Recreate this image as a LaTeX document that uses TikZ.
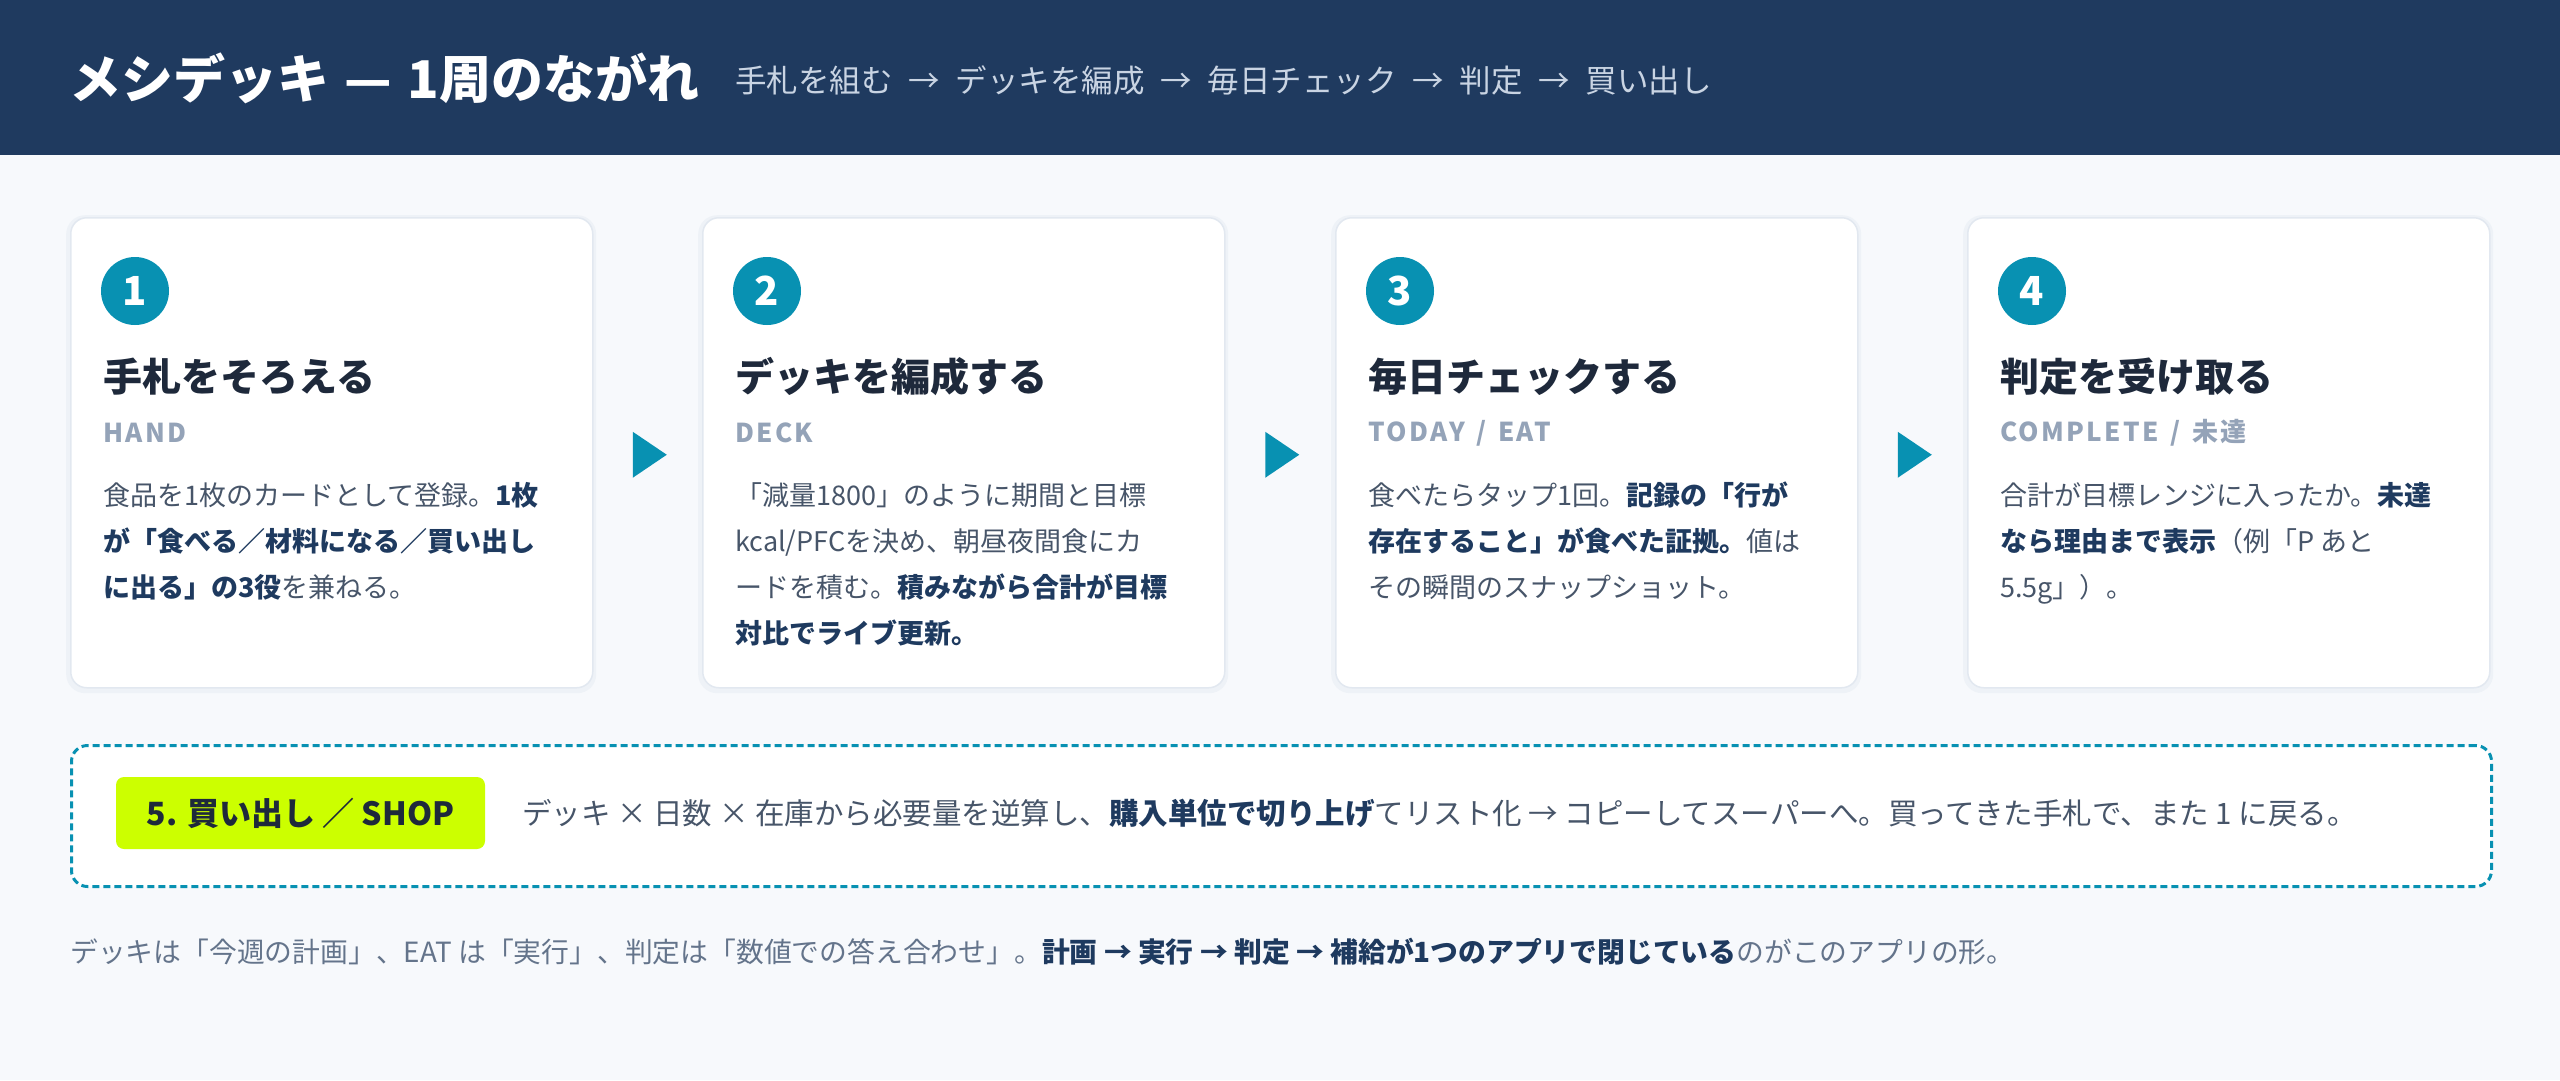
\documentclass[tikz,border=0pt]{standalone}
\usepackage{fontspec}
\setmainfont{Noto Sans CJK JP}
\usetikzlibrary{calc}
\definecolor{hdr}{HTML}{1F3A5F}
\definecolor{pagebg}{HTML}{F7F9FC}
\definecolor{teal}{HTML}{0891B2}
\definecolor{lime}{HTML}{CCFF00}
\definecolor{ttl}{HTML}{1E293B}
\definecolor{sub}{HTML}{94A3B8}
\definecolor{body}{HTML}{475569}
\definecolor{bb}{HTML}{1E3A5F}
\definecolor{foot}{HTML}{64748B}
\definecolor{hsub}{HTML}{C9D4E3}
\definecolor{cardline}{HTML}{E2E8F0}
\definecolor{shadow}{HTML}{EEF2F7}
\newcommand\myfs[2]{\fontsize{#1}{#2}\selectfont}
\newcommand\hlb[1]{{\bfseries\color{bb}#1}}
\newcommand\arr{\hspace{0.5em}→\hspace{0.5em}}
\newcommand\sla{\hspace{0.45em}/\hspace{0.45em}}
\tikzset{
  card/.style={draw=cardline, line width=1.5pt, fill=white, rounded corners=16pt,
    minimum width=522pt, minimum height=470pt, anchor=north west, inner sep=0pt},
  cardshadow/.style={fill=shadow, rounded corners=19pt, minimum width=530pt,
    minimum height=478pt, anchor=north west, inner sep=0pt},
  numcirc/.style={circle, fill=teal, minimum size=68pt, inner sep=0pt,
    text=white, font=\bfseries\myfs{40}{46}},
  ctitle/.style={anchor=west, inner sep=0pt, text=ttl, font=\bfseries\myfs{39}{46}},
  clabel/.style={anchor=west, inner sep=0pt, text=sub, font=\bfseries\myfs{26}{30}\addfontfeatures{LetterSpace=9}},
  cbody/.style={anchor=north west, inner sep=0pt, align=left, text=body, font=\myfs{27}{46}},
  tri/.style={fill=teal},
}
\begin{document}
\begin{tikzpicture}[x=1pt, y={(0pt,-1pt)}]
\useasboundingbox (0,0) rectangle (2560,1080);
\fill[pagebg] (0,0) rectangle (2560,1080);
\fill[hdr] (0,0) rectangle (2560,155);
\node[anchor=west, inner sep=0pt, text=white, font=\bfseries\myfs{52}{60}] (title) at (69,78) {メシデッキ\hspace{0.3em}—\hspace{0.3em}1周のながれ};
\node[anchor=west, inner sep=0pt, text=hsub, font=\myfs{31.5}{36}] (subtitle) at (735,80) {手札を組む\arr デッキを編成\arr 毎日チェック\arr 判定\arr 買い出し};

% cards
\foreach \i/\x in {1/70, 2/702, 3/1335, 4/1967}{
  \node[cardshadow] (s\i) at (\x-4,215) {};
  \node[card] (c\i) at (\x,217) {};
  \node[numcirc] (n\i) at (\x+65,291) {\i};
}
\node[ctitle] (t1) at (103,377) {手札をそろえる};
\node[ctitle] (t2) at (735,377) {デッキを編成する};
\node[ctitle] (t3) at (1368,377) {毎日チェックする};
\node[ctitle] (t4) at (2000,377) {判定を受け取る};

\node[clabel] (l1) at (103,433) {HAND};
\node[clabel] (l2) at (735,433) {DECK};
\node[clabel] (l3) at (1368,433) {TODAY\sla EAT};
\node[clabel] (l4) at (2000,433) {COMPLETE\sla 未達};

\node[cbody] (b1) at (103,482) {食品を1枚のカードとして登録。\hlb{1枚}\\
\hlb{が「食べる／材料になる／買い出し}\\
\hlb{に出る」の3役}を兼ねる。};
\node[cbody] (b2) at (735,482) {「減量1800」のように期間と目標\\
kcal/PFCを決め、朝昼夜間食にカ\\
ードを積む。\hlb{積みながら合計が目標}\\
\hlb{対比でライブ更新。}};
\node[cbody] (b3) at (1368,482) {食べたらタップ1回。\hlb{記録の「行が}\\
\hlb{存在すること」が食べた証拠。}値は\\
その瞬間のスナップショット。};
\node[cbody] (b4) at (2000,482) {合計が目標レンジに入ったか。\hlb{未達}\\
\hlb{なら理由まで表示}（例「P あと\\
5.5g」）。};

% arrows between cards
\foreach \a/\b in {1/2, 2/3, 3/4}{
  \coordinate (m\a) at ($(c\a.east)!0.5!(c\b.west)+(2,2)$);
  \fill[tri] ($(m\a)+(-17,-23)$) -- ($(m\a)+(17,0)$) -- ($(m\a)+(-17,23)$) -- cycle;
}

% shop box
\node[draw=teal, line width=3pt, dash pattern=on 7pt off 4pt, fill=white, rounded corners=16pt,
  minimum width=2420pt, minimum height=141pt, anchor=north west, inner sep=0pt] (shop) at (70,744) {};
\node[fill=lime, rounded corners=8pt, minimum width=369pt, minimum height=72pt, inner sep=0pt,
  text=ttl, font=\bfseries\myfs{32}{36}] (shoplabel) at (300.5,813) {5. 買い出し ／ SHOP};
\node[anchor=west, inner sep=0pt, text=body, font=\myfs{29.5}{34}] (shoptext) at (522,813)
  {デッキ × 日数 × 在庫から必要量を逆算し、\hlb{購入単位で切り上げ}てリスト化 → コピーしてスーパーへ。買ってきた手札で、また 1 に戻る。};

% footer
\node[anchor=west, inner sep=0pt, text=foot, font=\myfs{27.8}{32}] (footer) at (70,952)
  {デッキは「今週の計画」、EAT は「実行」、判定は「数値での答え合わせ」。\hlb{計画 → 実行 → 判定 → 補給が1つのアプリで閉じている}のがこのアプリの形。};
\end{tikzpicture}
\end{document}
